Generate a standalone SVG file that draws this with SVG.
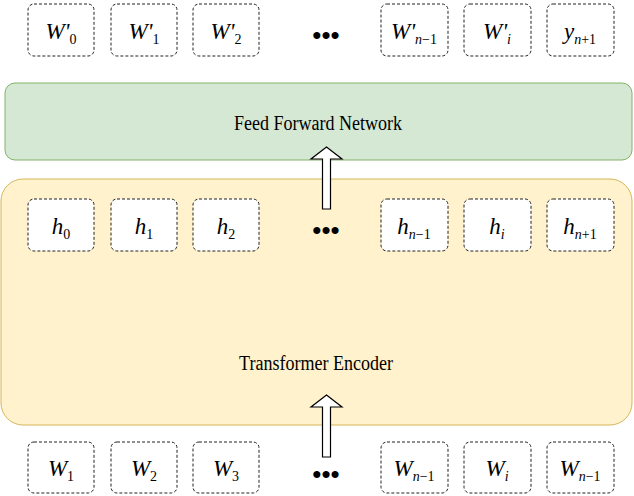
<svg xmlns="http://www.w3.org/2000/svg" width="634" height="496" viewBox="0 0 634 496">
<style>
.b{fill:#fff;stroke:#222;stroke-width:1;stroke-dasharray:3,2}
.m{font-family:"Liberation Serif",serif;font-style:italic;font-size:23px;text-anchor:middle}
.s{font-size:14px}
.n{font-style:normal}
.t{font-family:"Liberation Serif",serif;font-size:20px;text-anchor:middle}
.d{font-family:"Liberation Serif",serif;font-size:26px;font-weight:bold;text-anchor:middle}
.ar{fill:#fff;stroke:#000;stroke-width:1.2}
</style>
<g id="ffn"><rect x="5" y="83" width="627" height="77" rx="10" fill="#d5e8d4" stroke="#82b366"/><text class="t" x="318" y="130" textLength="168" lengthAdjust="spacingAndGlyphs">Feed Forward Network</text></g>
<g id="encoder"><rect x="1" y="179" width="631" height="246" rx="22" fill="#fff2cc" stroke="#d6b656"/><text class="t" x="316" y="370" textLength="154" lengthAdjust="spacingAndGlyphs">Transformer Encoder</text></g>
<g id="out">
<rect class="b" x="28" y="4" width="66" height="52" rx="6"/><text class="m" x="61" y="39">W'<tspan class="s n" dy="5">0</tspan></text>
<rect class="b" x="111" y="4" width="66" height="52" rx="6"/><text class="m" x="144" y="39">W'<tspan class="s n" dy="5">1</tspan></text>
<rect class="b" x="193" y="4" width="66" height="52" rx="6"/><text class="m" x="226" y="39">W'<tspan class="s n" dy="5">2</tspan></text>
<text class="d" x="326" y="44">•••</text>
<rect class="b" x="381" y="4" width="67" height="52" rx="6"/><text class="m" x="414" y="39">W'<tspan class="s" dy="5">n</tspan><tspan class="s n">−1</tspan></text>
<rect class="b" x="464" y="4" width="67" height="52" rx="6"/><text class="m" x="497" y="39">W'<tspan class="s" dy="5">i</tspan></text>
<rect class="b" x="547" y="4" width="67" height="52" rx="6"/><text class="m" x="580" y="39">y<tspan class="s" dy="5">n</tspan><tspan class="s n">+1</tspan></text>
</g>
<g id="hid">
<rect class="b" x="28" y="199" width="66" height="52" rx="6"/><text class="m" x="61" y="234">h<tspan class="s n" dy="5">0</tspan></text>
<rect class="b" x="111" y="199" width="66" height="52" rx="6"/><text class="m" x="144" y="234">h<tspan class="s n" dy="5">1</tspan></text>
<rect class="b" x="193" y="199" width="66" height="52" rx="6"/><text class="m" x="226" y="234">h<tspan class="s n" dy="5">2</tspan></text>
<text class="d" x="326" y="239">•••</text>
<rect class="b" x="381" y="199" width="67" height="52" rx="6"/><text class="m" x="414" y="234">h<tspan class="s" dy="5">n</tspan><tspan class="s n">−1</tspan></text>
<rect class="b" x="464" y="199" width="67" height="52" rx="6"/><text class="m" x="497" y="234">h<tspan class="s" dy="5">i</tspan></text>
<rect class="b" x="547" y="199" width="67" height="52" rx="6"/><text class="m" x="580" y="234">h<tspan class="s" dy="5">n</tspan><tspan class="s n">+1</tspan></text>
</g>
<g id="in">
<rect class="b" x="28" y="442" width="66" height="51" rx="6"/><text class="m" x="61" y="476">W<tspan class="s n" dy="5">1</tspan></text>
<rect class="b" x="111" y="442" width="66" height="51" rx="6"/><text class="m" x="144" y="476">W<tspan class="s n" dy="5">2</tspan></text>
<rect class="b" x="193" y="442" width="66" height="51" rx="6"/><text class="m" x="226" y="476">W<tspan class="s n" dy="5">3</tspan></text>
<text class="d" x="326" y="483">•••</text>
<rect class="b" x="381" y="442" width="67" height="51" rx="6"/><text class="m" x="414" y="476">W<tspan class="s" dy="5">n</tspan><tspan class="s n">−1</tspan></text>
<rect class="b" x="464" y="442" width="67" height="51" rx="6"/><text class="m" x="497" y="476">W<tspan class="s" dy="5">i</tspan></text>
<rect class="b" x="547" y="442" width="67" height="51" rx="6"/><text class="m" x="580" y="476">W<tspan class="s" dy="5">n</tspan><tspan class="s n">−1</tspan></text>
</g>
<g id="connectors">
<path class="ar" d="M322.5,209 V159 H311 L326.5,147 L342,159 H330.5 V209 Z"/>
<path class="ar" d="M322.5,457 V407 H311 L326.5,395 L342,407 H330.5 V457 Z"/>
</g>
</svg>
